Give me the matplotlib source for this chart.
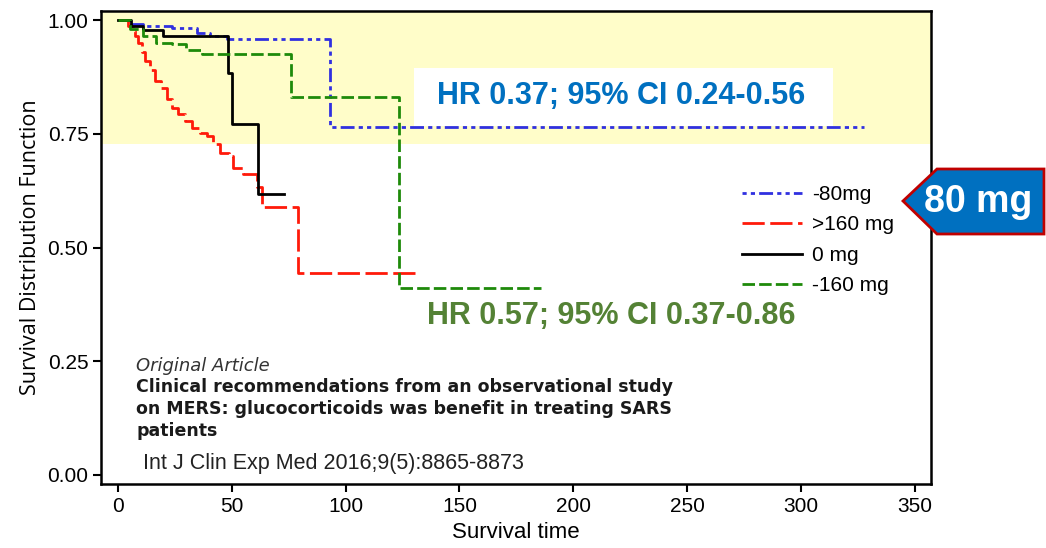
import numpy as np
import matplotlib.pyplot as plt
from matplotlib.patches import Polygon, Rectangle

# Kaplan-Meier curves (time, survival), step 'post'
t_80 = [0, 6, 11, 24, 35, 40.5, 48, 93, 327.5]
s_80 = [1.0, 0.991, 0.987, 0.982, 0.971, 0.965, 0.958, 0.765, 0.765]

t_gt160 = [0, 4.4, 6.6, 7.5, 8.8, 10.6, 11.9, 14.1, 16.3, 18.9, 21.6, 23.8, 26.4,
           29.5, 32.6, 36.1, 39.2, 41.8, 44.9, 48.9, 50.6, 55.0, 61.2, 63.4, 79.3, 130.8]
s_gt160 = [1.0, 0.987, 0.975, 0.965, 0.95, 0.93, 0.91, 0.89, 0.866, 0.85, 0.827, 0.807, 0.794,
           0.778, 0.763, 0.752, 0.746, 0.728, 0.708, 0.702, 0.675, 0.662, 0.632, 0.588, 0.443, 0.443]

t_0 = [0, 6, 11, 20, 48.4, 50.2, 61.7, 73]
s_0 = [1.0, 0.987, 0.978, 0.965, 0.884, 0.772, 0.618, 0.618]

t_160 = [0, 5.5, 11, 17, 24, 30, 37, 76, 123.5, 186]
s_160 = [1.0, 0.98, 0.965, 0.95, 0.947, 0.934, 0.925, 0.831, 0.412, 0.412]

xticks = [0, 50, 100, 150, 200, 250, 300, 350]
yticks = [0.0, 0.25, 0.5, 0.75, 1.0]

W, H = 1046, 548
def fx(px):
    return px / W
def fy(py):
    return 1 - py / H

plt.rcParams['font.family'] = ['Liberation Sans', 'DejaVu Sans']

fig = plt.figure(figsize=(W / 100, H / 100), dpi=100)
ax = fig.add_axes([fx(101), fy(484), fx(931) - fx(101), fy(11) - fy(484)])

ax.set_xlim(-7.33, 357.0)
ax.set_ylim(-0.0198, 1.0198)

# yellow highlight band
ax.axhspan(0.728, 1.0198, color='#FFFDC9', zorder=0, lw=0)
# white box behind the blue HR text
ax.add_patch(Rectangle((fx(414), fy(126)), fx(833) - fx(414), fy(68) - fy(126),
                       transform=fig.transFigure, facecolor='white', edgecolor='none', zorder=1.5))

lw = 2.0
l1, = ax.step(t_80, s_80, where='post', color='#3030E0', lw=lw,
              dashes=(1.5, 1.5, 1.5, 1.5, 5, 1.5), zorder=3, label='-80mg')
l2, = ax.step(t_gt160, s_gt160, where='post', color='#FF1A0A', lw=lw,
              dashes=(8, 2), zorder=3, label='>160 mg')
l3, = ax.step(t_0, s_0, where='post', color='black', lw=lw, zorder=3, label='0 mg')
l4, = ax.step(t_160, s_160, where='post', color='#1E8A0A', lw=lw,
              dashes=(4.5, 1.5), zorder=3, label='-160 mg')

ax.set_xticks(xticks)
ax.set_xticklabels([str(v) for v in xticks])
ax.set_yticks(yticks)
ax.set_yticklabels(['%.2f' % v for v in yticks])
ax.tick_params(direction='out', length=6, width=1.5, labelsize=15, pad=3)
for sp in ax.spines.values():
    sp.set_linewidth(1.8)

ax.set_xlabel('Survival time', fontsize=16, labelpad=5)
ax.set_ylabel('Survival Distribution Function', fontsize=15.5, labelpad=5, family='Open Sans')

leg = ax.legend(handles=[l1, l2, l3, l4], loc='upper left',
                bbox_to_anchor=(fx(742), fy(185)), bbox_transform=fig.transFigure,
                frameon=False, fontsize=15, handlelength=2.9, handletextpad=0.45,
                labelspacing=0.55, borderpad=0, borderaxespad=0)

# HR annotations
fig.text(fx(621), fy(96), 'HR 0.37; 95% CI 0.24-0.56', color='#0070C0', fontsize=22,
         fontweight='bold', ha='center', va='center')
fig.text(fx(611), fy(316), 'HR 0.57; 95% CI 0.37-0.86', color='#548235', fontsize=22,
         fontweight='bold', ha='center', va='center')

# article citation
fig.text(fx(136), fy(366), 'Original Article', fontsize=13, style='italic',
         color='#333333', family='DejaVu Sans', va='center')
fig.text(fx(136), fy(378), 'Clinical recommendations from an observational study\n'
         'on MERS: glucocorticoids was benefit in treating SARS\npatients',
         fontsize=12.5, fontweight='bold', color='#1a1a1a', family='DejaVu Sans',
         va='top', linespacing=1.3)
fig.text(fx(143), fy(463), 'Int J Clin Exp Med 2016;9(5):8865-8873', fontsize=15.5,
         color='#222222', va='center')

# "80 mg" callout arrow
pts = [(903, 201), (937, 169), (1044, 169), (1044, 234), (937, 234)]
fig.patches.append(Polygon([(fx(x), fy(y)) for x, y in pts], closed=True,
                           transform=fig.transFigure, facecolor='#0070C0',
                           edgecolor='#C00000', lw=2, zorder=5))
fig.text(fx(978), fy(202), '80 mg', color='white', fontsize=27, fontweight='bold',
         ha='center', va='center', zorder=6)

fig.savefig('out.png', dpi=100)
